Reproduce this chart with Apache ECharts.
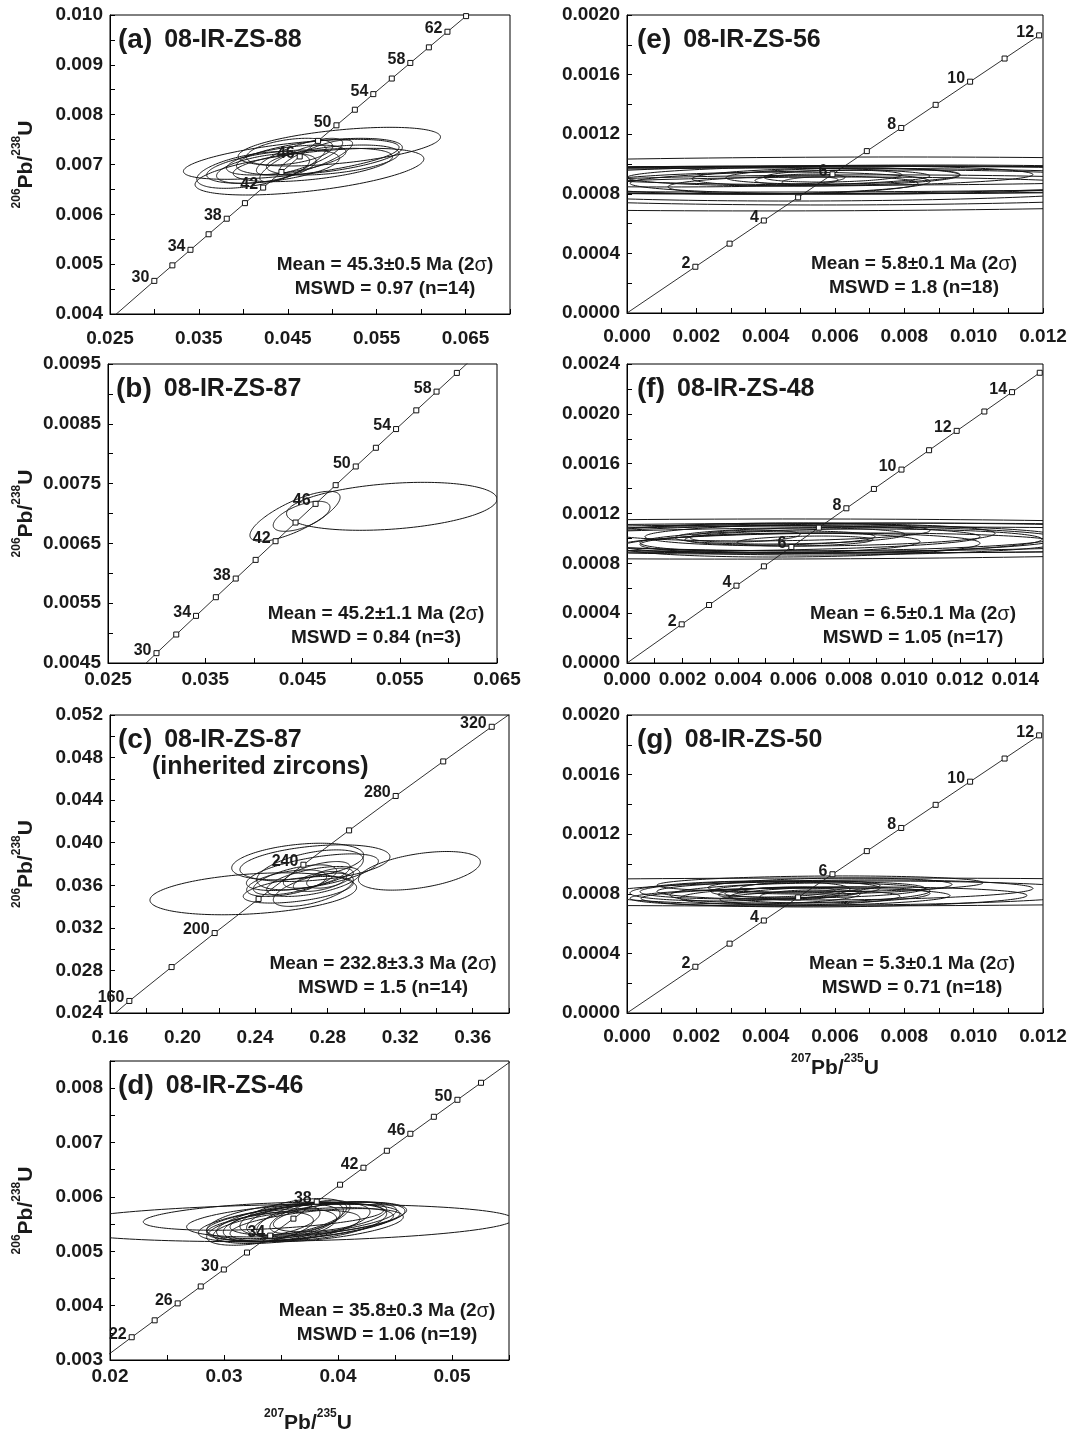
<!DOCTYPE html>
<html>
<head>
<meta charset="utf-8">
<title>U–Pb concordia diagrams</title>
<script src="https://cdn.jsdelivr.net/npm/echarts@6/dist/echarts.min.js"></script>
<style>
  html, body { margin: 0; padding: 0; background: #fff; }
  #chart { width: 1073px; height: 1434px; }
</style>
</head>
<body>
<div id="chart"></div>
<script>
// ---- U decay constants (per Myr) used to place concordia ages ----
const LAMBDA_238 = 1.55125e-4;
const LAMBDA_235 = 9.8485e-4;

// ---- Panel (a) 08-IR-ZS-88 ----
const markerAgesA = [30, 32, 34, 36, 38, 40, 42, 44, 46, 48, 50, 52, 54, 56, 58, 60, 62, 64];
const labelAgesA = [30, 34, 38, 42, 46, 50, 54, 58, 62];
const xTicksA = [0.025, 0.035, 0.045, 0.055, 0.065];
const yTicksA = [0.004, 0.005, 0.006, 0.007, 0.008, 0.009, 0.010];
// [207Pb/235U, 2s, 206Pb/238U, 2s, rho]
const ellipsesA = [
  [0.04539, 0.01213, 0.007104, 0.000401, 0.6],
  [0.04744, 0.01287, 0.006856, 0.000468, 0.55],
  [0.05080, 0.01138, 0.007358, 0.000388, 0.5],
  [0.04856, 0.00933, 0.007157, 0.000368, 0.5],
  [0.04483, 0.00672, 0.007090, 0.000301, 0.55],
  [0.04334, 0.00746, 0.006957, 0.000334, 0.5],
  [0.04632, 0.00485, 0.007157, 0.000368, 0.75],
  [0.04558, 0.00373, 0.007023, 0.000368, 0.8],
  [0.04819, 0.00410, 0.007157, 0.000334, 0.8],
  [0.04259, 0.00560, 0.006923, 0.000301, 0.5],
  [0.05006, 0.00746, 0.007090, 0.000301, 0.45],
  [0.04521, 0.00485, 0.007258, 0.000268, 0.4],
  [0.04110, 0.00634, 0.006890, 0.000368, 0.5],
  [0.04782, 0.00896, 0.006990, 0.000334, 0.5]
];

// ---- Panel (b) 08-IR-ZS-87 ----
const markerAgesB = [30, 32, 34, 36, 38, 40, 42, 44, 46, 48, 50, 52, 54, 56, 58, 60];
const labelAgesB = [30, 34, 38, 42, 46, 50, 54, 58];
const xTicksB = [0.025, 0.035, 0.045, 0.055, 0.065];
const yTicksB = [0.0045, 0.0055, 0.0065, 0.0075, 0.0085, 0.0095];
const ellipsesB = [
  [0.05418, 0.01082, 0.007120, 0.000401, 0.3],
  [0.04423, 0.004635, 0.006953, 0.000418, 0.76],
  [0.04491, 0.00292, 0.006953, 0.000251, 0.6]
];

// ---- Panel (c) 08-IR-ZS-87, inherited zircons ----
const markerAgesC = [160, 180, 200, 220, 240, 260, 280, 300, 320];
const labelAgesC = [160, 200, 240, 280, 320];
const xTicksC = [0.16, 0.20, 0.24, 0.28, 0.32, 0.36];
const yTicksC = [0.024, 0.028, 0.032, 0.036, 0.040, 0.044, 0.048, 0.052];
const ellipsesC = [
  [0.2390, 0.05697, 0.03520, 0.001970, 0.3],
  [0.3306, 0.03363, 0.03736, 0.001815, 0.45],
  [0.2635, 0.03639, 0.03823, 0.001721, 0.35],
  [0.2730, 0.04135, 0.03808, 0.001721, 0.35],
  [0.2716, 0.03639, 0.03723, 0.001721, 0.6],
  [0.2638, 0.03033, 0.03558, 0.001251, 0.5],
  [0.2721, 0.02205, 0.03558, 0.001564, 0.6],
  [0.2574, 0.02205, 0.03620, 0.001251, 0.5],
  [0.2620, 0.02297, 0.03651, 0.001408, 0.6],
  [0.2721, 0.02573, 0.03636, 0.001408, 0.55],
  [0.2740, 0.01838, 0.03698, 0.001251, 0.6],
  [0.2758, 0.01470, 0.03636, 0.000939, 0.5],
  [0.2813, 0.01287, 0.03667, 0.000939, 0.5],
  [0.2703, 0.02941, 0.03745, 0.001877, 0.5]
];

// ---- Panel (d) 08-IR-ZS-46 ----
const markerAgesD = [22, 24, 26, 28, 30, 32, 34, 36, 38, 40, 42, 44, 46, 48, 50, 52];
const labelAgesD = [22, 26, 30, 34, 38, 42, 46, 50];
const xTicksD = [0.02, 0.03, 0.04, 0.05];
const yTicksD = [0.003, 0.004, 0.005, 0.006, 0.007, 0.008];
const ellipsesD = [
  [0.03520, 0.02018, 0.005521, 0.000343, 0.2],
  [0.03345, 0.01053, 0.005644, 0.000257, 0.4],
  [0.03608, 0.00936, 0.005570, 0.000306, 0.4],
  [0.03681, 0.00906, 0.005540, 0.000367, 0.55],
  [0.03725, 0.00877, 0.005570, 0.000337, 0.55],
  [0.03667, 0.00819, 0.005497, 0.000306, 0.5],
  [0.03608, 0.00673, 0.005540, 0.000367, 0.5],
  [0.03784, 0.00731, 0.005601, 0.000306, 0.5],
  [0.03550, 0.00643, 0.005448, 0.000306, 0.5],
  [0.03842, 0.00585, 0.005540, 0.000337, 0.45],
  [0.03608, 0.00468, 0.005632, 0.000337, 0.5],
  [0.03491, 0.00497, 0.005479, 0.000306, 0.4],
  [0.03667, 0.00380, 0.005570, 0.000337, 0.55],
  [0.03520, 0.00322, 0.005570, 0.000275, 0.5],
  [0.03754, 0.00351, 0.005632, 0.000306, 0.6],
  [0.03316, 0.00468, 0.005417, 0.000306, 0.5],
  [0.03930, 0.00497, 0.005632, 0.000275, 0.5],
  [0.03433, 0.00585, 0.005540, 0.000337, 0.45],
  [0.03813, 0.00760, 0.005479, 0.000306, 0.5]
];

// ---- Panel (e) 08-IR-ZS-56 ----
const markerAgesE = [2, 3, 4, 5, 6, 7, 8, 9, 10, 11, 12];
const labelAgesE = [2, 4, 6, 8, 10, 12];
const xTicksE = [0.000, 0.002, 0.004, 0.006, 0.008, 0.010, 0.012];
const yTicksE = [0.0000, 0.0004, 0.0008, 0.0012, 0.0016, 0.0020];
const ellipsesE = [
  [0.005856, 0.02019, 0.000866, 0.000181, 0.1],
  [0.005567, 0.01875, 0.000893, 0.0000940, 0.05],
  [0.004413, 0.01587, 0.000899, 0.0000872, 0.05],
  [0.006433, 0.01385, 0.000893, 0.0000940, 0.08],
  [0.003837, 0.01212, 0.000886, 0.0000872, 0.08],
  [0.005856, 0.005856, 0.000919, 0.0000671, 0.15],
  [0.005740, 0.003865, 0.000913, 0.0000604, 0.2],
  [0.006231, 0.003375, 0.000919, 0.0000537, 0.2],
  [0.005942, 0.001990, 0.000919, 0.0000403, 0.2],
  [0.004788, 0.003606, 0.000859, 0.0000604, 0.2],
  [0.004990, 0.001298, 0.000899, 0.0000336, 0.3],
  [0.005279, 0.000808, 0.000886, 0.0000268, 0.3],
  [0.005567, 0.008654, 0.000832, 0.0000805, 0.1],
  [0.003837, 0.004904, 0.000872, 0.0000738, 0.15],
  [0.007298, 0.007211, 0.000879, 0.0000805, 0.1],
  [0.001817, 0.006923, 0.000913, 0.0000671, 0.1],
  [0.006433, 0.010960, 0.000826, 0.000101, 0.08],
  [0.007875, 0.009520, 0.000926, 0.0000671, 0.1]
];

// ---- Panel (f) 08-IR-ZS-48 ----
const markerAgesF = [2, 3, 4, 5, 6, 7, 8, 9, 10, 11, 12, 13, 14, 15];
const labelAgesF = [2, 4, 6, 8, 10, 12, 14];
const xTicksF = [0.000, 0.002, 0.004, 0.006, 0.008, 0.010, 0.012, 0.014];
const yTicksF = [0.0000, 0.0004, 0.0008, 0.0012, 0.0016, 0.0020, 0.0024];
const ellipsesF = [
  [0.004796, 0.02344, 0.000995, 0.000161, 0.05],
  [0.008041, 0.02164, 0.001003, 0.000120, 0.05],
  [0.007716, 0.007248, 0.000979, 0.0000963, 0.15],
  [0.006959, 0.006310, 0.001027, 0.0000883, 0.15],
  [0.005878, 0.004147, 0.001019, 0.0000642, 0.2],
  [0.004255, 0.001983, 0.001019, 0.0000482, 0.25],
  [0.006418, 0.002452, 0.000979, 0.0000401, 0.25],
  [0.005517, 0.005048, 0.000963, 0.0000803, 0.15],
  [0.006599, 0.009015, 0.001003, 0.000104, 0.1],
  [0.004796, 0.010820, 0.000987, 0.000112, 0.1],
  [0.008762, 0.012620, 0.001011, 0.000112, 0.08],
  [0.006238, 0.006491, 0.000947, 0.0000963, 0.15],
  [0.005156, 0.005769, 0.001052, 0.0000722, 0.15],
  [0.007680, 0.007933, 0.000955, 0.0000883, 0.12],
  [0.002632, 0.010100, 0.001003, 0.000104, 0.1],
  [0.009844, 0.015140, 0.000987, 0.000104, 0.08],
  [0.005517, 0.003426, 0.001003, 0.0000562, 0.2]
];

// ---- Panel (g) 08-IR-ZS-50 ----
const markerAgesG = [2, 3, 4, 5, 6, 7, 8, 9, 10, 11, 12];
const labelAgesG = [2, 4, 6, 8, 10, 12];
const xTicksG = [0.000, 0.002, 0.004, 0.006, 0.008, 0.010, 0.012];
const yTicksG = [0.0000, 0.0004, 0.0008, 0.0012, 0.0016, 0.0020];
const ellipsesG = [
  [0.005567, 0.01875, 0.000812, 0.0000940, 0.05],
  [0.006288, 0.005423, 0.000826, 0.0000671, 0.15],
  [0.005971, 0.005567, 0.000779, 0.0000671, 0.15],
  [0.005567, 0.004702, 0.000866, 0.0000537, 0.15],
  [0.005856, 0.003519, 0.000852, 0.0000537, 0.2],
  [0.005510, 0.003087, 0.000826, 0.0000537, 0.2],
  [0.004702, 0.002077, 0.000805, 0.0000403, 0.25],
  [0.004990, 0.001154, 0.000792, 0.0000336, 0.3],
  [0.004413, 0.001587, 0.000812, 0.0000336, 0.3],
  [0.005279, 0.002596, 0.000772, 0.0000470, 0.25],
  [0.004702, 0.004615, 0.000779, 0.0000604, 0.15],
  [0.003837, 0.003462, 0.000826, 0.0000604, 0.2],
  [0.004990, 0.003750, 0.000805, 0.0000671, 0.2],
  [0.005856, 0.002885, 0.000792, 0.0000537, 0.2],
  [0.004125, 0.002596, 0.000785, 0.0000537, 0.25],
  [0.005279, 0.002019, 0.000846, 0.0000403, 0.25],
  [0.006433, 0.007211, 0.000805, 0.0000805, 0.1],
  [0.003260, 0.003173, 0.000819, 0.0000671, 0.2]
];

// ---- panel table for the options builder ----
const panels = [
  { tag: '(a)', name: '08-IR-ZS-88', sub: '', ages: markerAgesA, labels: labelAgesA, lineEnd: 64, ell: ellipsesA,
    xRange: [0.025, 0.070, 0.005], xTicks: xTicksA, xDec: 3, yRange: [0.004, 0.010, 0.0005], yTicks: yTicksA, yDec: 3,
    mean: 'Mean = 45.3±0.5 Ma (2', mswd: 'MSWD = 0.97 (n=14)' },
  { tag: '(b)', name: '08-IR-ZS-87', sub: '', ages: markerAgesB, labels: labelAgesB, lineEnd: 64, ell: ellipsesB,
    xRange: [0.025, 0.065, 0.005], xTicks: xTicksB, xDec: 3, yRange: [0.0045, 0.0095, 0.0005], yTicks: yTicksB, yDec: 4,
    mean: 'Mean = 45.2±1.1 Ma (2', mswd: 'MSWD = 0.84 (n=3)' },
  { tag: '(c)', name: '08-IR-ZS-87', sub: '(inherited zircons)', ages: markerAgesC, labels: labelAgesC, lineEnd: 340, ell: ellipsesC,
    xRange: [0.16, 0.38, 0.02], xTicks: xTicksC, xDec: 2, yRange: [0.024, 0.052, 0.002], yTicks: yTicksC, yDec: 3,
    mean: 'Mean = 232.8±3.3 Ma (2', mswd: 'MSWD = 1.5 (n=14)' },
  { tag: '(d)', name: '08-IR-ZS-46', sub: '', ages: markerAgesD, labels: labelAgesD, lineEnd: 56, ell: ellipsesD,
    xRange: [0.02, 0.055, 0.005], xTicks: xTicksD, xDec: 2, yRange: [0.003, 0.0085, 0.0005], yTicks: yTicksD, yDec: 3,
    mean: 'Mean = 35.8±0.3 Ma (2', mswd: 'MSWD = 1.06 (n=19)' },
  { tag: '(e)', name: '08-IR-ZS-56', sub: '', ages: markerAgesE, labels: labelAgesE, lineEnd: 12, ell: ellipsesE,
    xRange: [0, 0.012, 0.001], xTicks: xTicksE, xDec: 3, yRange: [0, 0.0020, 0.0002], yTicks: yTicksE, yDec: 4,
    mean: 'Mean = 5.8±0.1 Ma (2', mswd: 'MSWD = 1.8 (n=18)' },
  { tag: '(f)', name: '08-IR-ZS-48', sub: '', ages: markerAgesF, labels: labelAgesF, lineEnd: 15, ell: ellipsesF,
    xRange: [0, 0.015, 0.001], xTicks: xTicksF, xDec: 3, yRange: [0, 0.0024, 0.0002], yTicks: yTicksF, yDec: 4,
    mean: 'Mean = 6.5±0.1 Ma (2', mswd: 'MSWD = 1.05 (n=17)' },
  { tag: '(g)', name: '08-IR-ZS-50', sub: '', ages: markerAgesG, labels: labelAgesG, lineEnd: 12, ell: ellipsesG,
    xRange: [0, 0.012, 0.001], xTicks: xTicksG, xDec: 3, yRange: [0, 0.0020, 0.0002], yTicks: yTicksG, yDec: 4,
    mean: 'Mean = 5.3±0.1 Ma (2', mswd: 'MSWD = 0.71 (n=18)' }
];

// ---- page layout: [left, top, width, height, x-label margin, stats centre x, y-title?] ----
const layout = [
  [110, 15, 400, 299, 15, 385, true],
  [108, 364, 389, 299, 7, 376, true],
  [110, 715, 399, 298, 15, 383, true],
  [110, 1061, 399, 299, 7, 387, true],
  [627, 15, 416, 298, 14, 914, false],
  [627, 364, 416, 299, 7, 913, false],
  [627, 715, 416, 298, 14, 912, false]
];

const FONT = '"Liberation Sans", Arial, Helvetica, sans-serif';
const INK = '#1a1a1a';

function ratio206(age) { return Math.exp(LAMBDA_238 * age) - 1; }
function ratio207(age) { return Math.exp(LAMBDA_235 * age) - 1; }

function tickFormatter(ticks, step, dec) {
  return function (v) {
    const hit = ticks.find(t => Math.abs(t - v) < step * 1e-3);
    return hit === undefined ? '' : hit.toFixed(dec);
  };
}

// error ellipse traced in data space from centre, 2s extents and correlation
function renderEllipse(params, api) {
  const cx = api.value(0), sx = api.value(1), cy = api.value(2), sy = api.value(3), rho = api.value(4);
  const k = Math.sqrt(1 - rho * rho);
  const pts = [];
  const n = 180;
  for (let i = 0; i < n; i++) {
    const t = (i / n) * Math.PI * 2;
    const c = Math.cos(t), s = Math.sin(t);
    pts.push(api.coord([cx + sx * c, cy + sy * (rho * c + k * s)]));
  }
  return {
    type: 'polygon',
    shape: { points: pts },
    style: { fill: 'none', stroke: '#151515', lineWidth: 1 }
  };
}

const grids = [], xAxes = [], yAxes = [], series = [], graphics = [];

const axisCommon = {
  type: 'value',
  scale: false,
  axisLine: { show: true, onZero: false, lineStyle: { color: '#000', width: 1 } },
  axisTick: { show: true, inside: true, length: 5, lineStyle: { color: '#000', width: 1 } },
  splitLine: { show: false },
  minorTick: { show: false }
};
const tickLabelStyle = { color: INK, fontSize: 19, fontWeight: 'bold', fontFamily: FONT, hideOverlap: false, showMinLabel: true, showMaxLabel: true };

const titleRich = {
  p: { fontSize: 28, fontWeight: 'bold', fontFamily: FONT, fill: INK, color: INK },
  gap: { fontSize: 25, fontFamily: FONT, width: 12 },
  n: { fontSize: 25, fontWeight: 'bold', fontFamily: FONT, fill: INK, color: INK }
};
const statRich = {
  b: { fontSize: 19, fontWeight: 'bold', fontFamily: FONT, color: INK, fill: INK },
  s: { fontSize: 20, fontWeight: 'normal', fontFamily: FONT, color: INK, fill: INK }
};
const ratioRich = {
  sup: { fontSize: 12, fontWeight: 'bold', fontFamily: FONT, color: INK, fill: INK, lineHeight: 12, verticalAlign: 'top' },
  big: { fontSize: 21, fontWeight: 'bold', fontFamily: FONT, color: INK, fill: INK, lineHeight: 26, verticalAlign: 'bottom' }
};
const RATIO_Y = '{sup|206}{big|Pb/}{sup|238}{big|U}';
const RATIO_X = '{sup|207}{big|Pb/}{sup|235}{big|U}';

panels.forEach((p, i) => {
  const [left, top, width, height, xMargin, statX, yTitle] = layout[i];
  grids.push({ left, top, width, height, show: true, borderColor: '#000', borderWidth: 1,
    backgroundColor: 'transparent', containLabel: false, outerBoundsMode: 'none' });

  xAxes.push(Object.assign({}, axisCommon, {
    gridIndex: i, min: p.xRange[0], max: p.xRange[1], interval: p.xRange[2],
    axisLabel: Object.assign({}, tickLabelStyle, { margin: xMargin, formatter: tickFormatter(p.xTicks, p.xRange[2], p.xDec) })
  }));
  yAxes.push(Object.assign({}, axisCommon, {
    gridIndex: i, min: p.yRange[0], max: p.yRange[1], interval: p.yRange[2],
    axisLabel: Object.assign({}, tickLabelStyle, { margin: 7, formatter: tickFormatter(p.yTicks, p.yRange[2], p.yDec) })
  }));

  // error ellipses
  series.push({
    type: 'custom', xAxisIndex: i, yAxisIndex: i, clip: true, z: 2, silent: true,
    renderItem: renderEllipse, encode: { x: 0, y: 2 }, data: p.ell
  });

  // concordia curve
  const curveAges = [0].concat(p.ages, [p.lineEnd]);
  series.push({
    type: 'line', xAxisIndex: i, yAxisIndex: i, clip: true, z: 3, silent: true,
    showSymbol: false, symbol: 'none',
    lineStyle: { color: '#1a1a1a', width: 0.9 },
    data: curveAges.map(a => [ratio207(a), ratio206(a)])
  });

  // age markers with labels
  series.push({
    type: 'scatter', xAxisIndex: i, yAxisIndex: i, clip: true, z: 4, silent: true,
    symbol: 'rect', symbolSize: 5,
    itemStyle: { color: '#fff', borderColor: '#111', borderWidth: 1, opacity: 1 },
    label: {
      show: true, position: 'left', distance: 2, offset: [0, -3],
      color: INK, fontSize: 16, fontWeight: 'bold', fontFamily: FONT,
      formatter: q => (p.labels.indexOf(q.value[2]) >= 0 ? String(q.value[2]) : '')
    },
    data: p.ages.map(a => [ratio207(a), ratio206(a), a])
  });

  // panel title
  const tx = left + (i < 4 ? 8 : 10);
  graphics.push({ type: 'text', x: tx, y: top + 25, z: 10,
    style: { text: '{p|' + p.tag + '}{gap| }{n|' + p.name + '}', rich: titleRich, align: 'left', verticalAlign: 'middle',
      fontSize: 25, fontWeight: 'bold', fontFamily: FONT, fill: INK } });
  if (p.sub) {
    graphics.push({ type: 'text', x: tx + 34, y: top + 52, z: 10,
      style: { text: p.sub, align: 'left', verticalAlign: 'middle', fontSize: 25, fontWeight: 'bold', fontFamily: FONT, fill: INK } });
  }

  // statistics
  const bottom = top + height;
  graphics.push({ type: 'text', x: statX, y: bottom - 49, z: 10,
    style: { text: '{b|' + p.mean + '}{s|σ}{b|)}', rich: statRich, align: 'center', verticalAlign: 'middle',
      fontSize: 19, fontWeight: 'bold', fontFamily: FONT, fill: INK } });
  graphics.push({ type: 'text', x: statX, y: bottom - 25, z: 10,
    style: { text: '{b|' + p.mswd + '}', rich: statRich, align: 'center', verticalAlign: 'middle',
      fontSize: 19, fontWeight: 'bold', fontFamily: FONT, fill: INK } });

  // y-axis title on the left column
  if (yTitle) {
    graphics.push({ type: 'text', x: 24, y: top + height / 2, rotation: Math.PI / 2, z: 10,
      style: { text: RATIO_Y, rich: ratioRich, align: 'center', verticalAlign: 'middle', fill: INK } });
  }
});

// x-axis titles under the bottom panel of each column
graphics.push({ type: 'text', x: 308, y: 1421, z: 10,
  style: { text: RATIO_X, rich: ratioRich, align: 'center', verticalAlign: 'middle', fill: INK } });
graphics.push({ type: 'text', x: 835, y: 1066, z: 10,
  style: { text: RATIO_X, rich: ratioRich, align: 'center', verticalAlign: 'middle', fill: INK } });

const chart = echarts.init(document.getElementById('chart'), null, { renderer: 'canvas', width: 1073, height: 1434 });
chart.setOption({
  animation: false,
  backgroundColor: '#fff',
  textStyle: { fontFamily: FONT },
  grid: grids,
  xAxis: xAxes,
  yAxis: yAxes,
  series: series,
  graphic: graphics
});
</script>
</body>
</html>
